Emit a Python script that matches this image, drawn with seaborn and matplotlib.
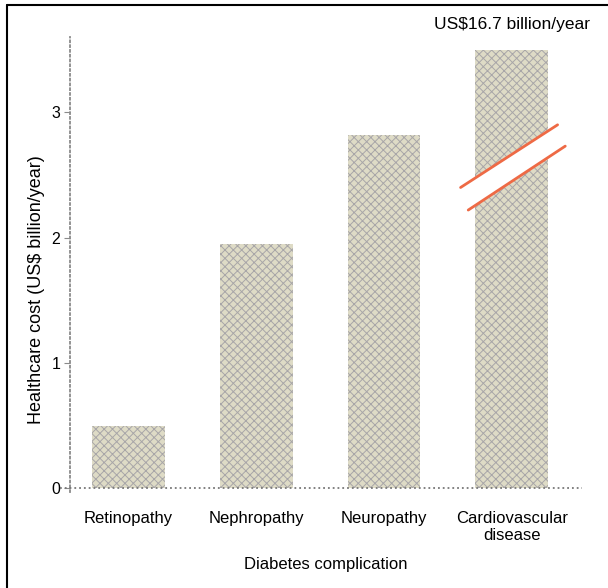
import matplotlib
matplotlib.use('Agg')
import matplotlib.pyplot as plt
import seaborn as sns
import pandas as pd
from matplotlib.lines import Line2D

# Values (US$ billion/year); cardiovascular bar is broken
complications = ['Retinopathy', 'Nephropathy', 'Neuropathy', 'Cardiovascular\ndisease']
cost = [0.5, 1.95, 2.82, 3.5]
cvd_true_label = 'US$16.7 billion/year'
y_ticks = [0, 1, 2, 3]

df = pd.DataFrame({'complication': complications, 'cost': cost})

sns.set_style('white')
plt.rcParams['font.family'] = ['Liberation Sans', 'DejaVu Sans']
plt.rcParams['text.color'] = 'black'
plt.rcParams['axes.labelcolor'] = 'black'
plt.rcParams['ytick.labelcolor'] = 'black'
plt.rcParams['xtick.labelcolor'] = 'black'
plt.rcParams['hatch.linewidth'] = 0.7

fig = plt.figure(figsize=(6.08, 5.88), dpi=100)
ax = fig.add_axes([0.115, 0.163, 0.842, 0.774])

sns.barplot(data=df, x='complication', y='cost', order=complications,
            color='#dedbc6', width=0.57, saturation=1, ax=ax, zorder=2)
for bar in ax.patches:
    bar.set_hatch('xxxx')
    bar.set_edgecolor('#a8a6a8')
    bar.set_linewidth(0)

ax.set_xlim(-0.46, 3.55)
ax.set_ylim(-0.03, 3.6)
ax.set_yticks(y_ticks)
ax.set_yticklabels([str(t) for t in y_ticks], fontsize=11.5)

for side in ['top', 'right', 'bottom']:
    ax.spines[side].set_visible(False)
ax.spines['left'].set_color('#8a8a8a')
ax.spines['left'].set_linestyle(':')
ax.spines['left'].set_linewidth(1.3)
ax.tick_params(axis='y', left=True, length=4, width=0.8, color='#8a8a8a', pad=3)
ax.tick_params(axis='x', bottom=False, labelsize=12, pad=10)

# dotted baseline at zero
ax.plot([-0.54, 3.55], [0, 0], ls=':', color='#777777', lw=1.3,
        clip_on=False, zorder=3)

ax.set_xlabel('Diabetes complication', fontsize=12, labelpad=10)
ax.set_ylabel('Healthcare cost (US$ billion/year)', fontsize=13)
ax.yaxis.set_label_coords(-0.048, 0.444)

# break marks on the cardiovascular bar
top = cost[3]
x1 = [2.60, 3.36]
y1 = [top - 1.10, top - 0.60]
x2 = [2.66, 3.42]
y2 = [top - 1.28, top - 0.77]
ax.fill([x1[0], x1[1], x2[1], x2[0]], [y1[0], y1[1], y2[1], y2[0]],
        color='white', zorder=4, clip_on=False)
ax.plot(x1, y1, color='#ee6a45', lw=2, zorder=5)
ax.plot(x2, y2, color='#ee6a45', lw=2, zorder=5)

ax.text(3.0, top + 0.14, cvd_true_label, ha='center', va='bottom',
        fontsize=12.5)

# frame lines at top and left of the figure
fig.add_artist(Line2D([0.012, 0.012], [0, 0.991], color='black', lw=1.5))
fig.add_artist(Line2D([0.012, 1.0], [0.991, 0.991], color='black', lw=1.5))

fig.savefig('out.png', dpi=100)
